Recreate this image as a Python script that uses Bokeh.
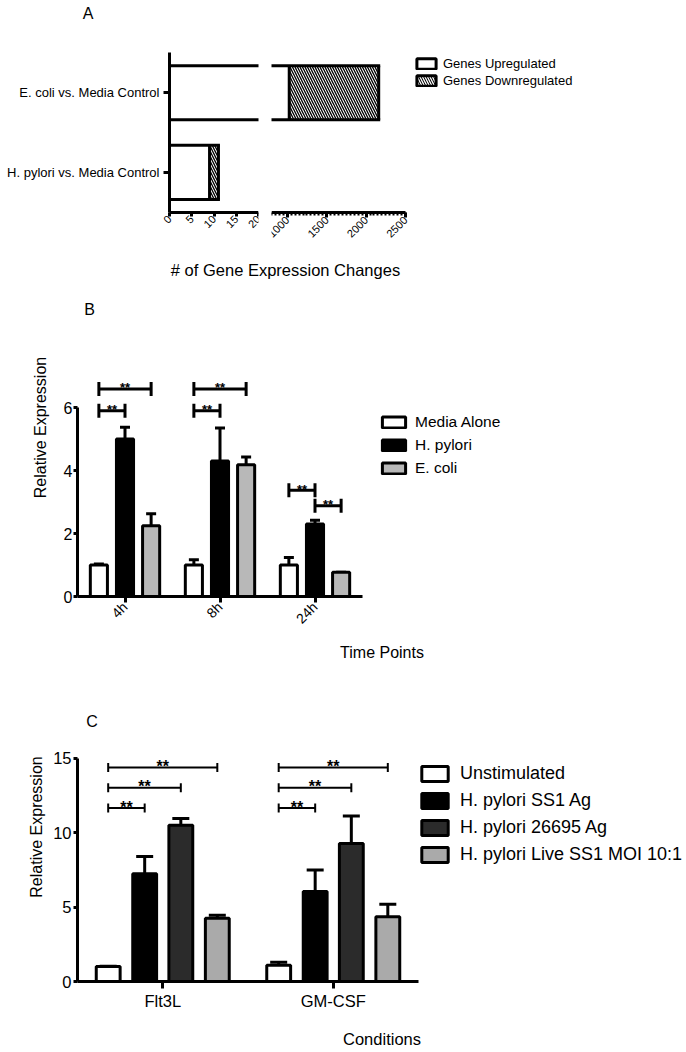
import numpy as np
from bokeh.plotting import figure
from bokeh.models import (Range1d, FixedTicker, Legend, LegendItem, Label, Whisker, TeeHead,
                          ColumnDataSource, CDSView, BooleanFilter)
from bokeh.layouts import column, row
from bokeh.embed import file_html
from bokeh.resources import INLINE
from bokeh.core.properties import value

FONT = "Liberation Sans"
W = 686

# ---------------- data ----------------
# Panel A
a_comparisons = ["H. pylori vs. Media Control", "E. coli vs. Media Control"]
a_up = [9, 1025]
a_down = [2, 1135]
a_series = ["Genes Upregulated", "Genes Downregulated"]
a_left_ticks = [0, 5, 10, 15, 20]
a_right_ticks = [1000, 1500, 2000, 2500]
a_right_minor = list(range(800, 2501, 50))
a_xlabel = "# of Gene Expression Changes"

# Panel B
b_times = ["4h", "8h", "24h"]
b_series = ["Media Alone", "H. pylori", "E. coli"]
b_media = [1.0, 1.0, 1.0]
b_media_err = [0.03, 0.17, 0.24]
b_hpylori = [5.0, 4.3, 2.3]
b_hpylori_err = [0.37, 1.05, 0.12]
b_ecoli = [2.25, 4.18, 0.77]
b_ecoli_err = [0.38, 0.25, 0.0]
b_yticks = [0, 2, 4, 6]
b_sig_time = [0, 0, 1, 1, 2, 2]
b_sig_from = [0, 0, 0, 0, 0, 1]
b_sig_to = [1, 2, 1, 2, 1, 2]
b_sig_height = [5.9, 6.59, 5.9, 6.59, 3.37, 2.88]
b_sig_text = ["**", "**", "**", "**", "**", "**"]

# Panel C
c_conditions = ["Flt3L", "GM-CSF"]
c_series = ["Unstimulated", "H. pylori SS1 Ag", "H. pylori 26695 Ag", "H. pylori Live SS1 MOI 10:1"]
c_unstim = [1.0, 1.1]
c_unstim_err = [0.02, 0.2]
c_ss1 = [7.25, 6.05]
c_ss1_err = [1.15, 1.45]
c_26695 = [10.5, 9.27]
c_26695_err = [0.45, 1.85]
c_live = [4.25, 4.35]
c_live_err = [0.2, 0.85]
c_yticks = [0, 5, 10, 15]
c_sig_cond = [0, 0, 0, 1, 1, 1]
c_sig_from = [0, 0, 0, 0, 0, 0]
c_sig_to = [1, 2, 3, 1, 2, 3]
c_sig_height = [11.66, 13.03, 14.38, 11.66, 13.03, 14.38]
c_sig_text = ["**", "**", "**", "**", "**", "**"]

B_COLORS = ["white", "black", "#b8b8b8"]
C_COLORS = ["white", "black", "#2b2b2b", "#aaaaaa"]
B_OFFSETS = [-0.275, 0.0, 0.275]
C_OFFSETS = [-0.32, -0.106, 0.106, 0.32]
A_BAR = 0.68    # bar thickness in category bands


def base_fig(**kw):
    p = figure(output_backend="svg", toolbar_location=None, **kw)
    p.grid.visible = False
    p.outline_line_color = None
    return p


def style_axis(ax, size, lw=3, tick_out=4, standoff=2):
    ax.axis_line_width = lw
    ax.axis_line_color = "black"
    ax.major_tick_line_width = lw
    ax.major_tick_line_color = "black"
    ax.major_tick_in = 0
    ax.major_tick_out = tick_out
    ax.minor_tick_line_color = None
    ax.major_label_standoff = standoff
    ax.major_label_text_font = FONT
    ax.major_label_text_font_size = size
    ax.major_label_text_color = "black"
    ax.axis_label_text_font = FONT
    ax.axis_label_text_font_style = "normal"
    ax.axis_label_text_color = "black"


def text_label(p, text, x, y, size="16px"):
    # x, y in screen pixels from the frame's bottom-left corner
    p.add_layout(Label(x=x, y=y, x_units="screen", y_units="screen", text=text,
                       text_font=FONT, text_font_size=size, text_color="black",
                       text_align="center", text_baseline="middle"))


def grouped(p, groups, vals_list, errs_list, colors, offsets, width, cap, lw):
    centers = np.arange(len(groups)) + 0.5
    rs = []
    for vals, errs, col, off in zip(vals_list, errs_list, colors, offsets):
        src = ColumnDataSource(dict(x=centers + off, top=vals, upper=np.add(vals, errs)))
        p.add_layout(Whisker(source=src, base="x", lower="top", upper="upper",
                             line_width=lw, line_color="black",
                             upper_head=TeeHead(size=cap, line_width=lw, line_color="black"),
                             lower_head=None))
        r = p.vbar(x="x", top="top", bottom=0, width=width, source=src,
                   fill_color=col, line_color="black", line_width=lw)
        rs.append(r)
    return rs, centers


def brackets(p, centers, offsets, g, a, b, h, texts, lw, cap, fsize, yoff):
    x0 = np.array([centers[gi] + offsets[ai] for gi, ai in zip(g, a)])
    x1 = np.array([centers[gi] + offsets[bi] for gi, bi in zip(g, b)])
    src = ColumnDataSource(dict(x0=x0, x1=x1, xm=(x0 + x1) / 2, y=h, t=texts))
    p.add_layout(Whisker(source=src, dimension="width", base="y", lower="x0", upper="x1",
                         line_width=lw, line_color="black",
                         upper_head=TeeHead(size=cap, line_width=lw, line_color="black"),
                         lower_head=TeeHead(size=cap, line_width=lw, line_color="black")))
    p.text(x="xm", y="y", text="t", source=src, text_font=value(FONT),
           text_font_size=fsize, text_font_style="bold", text_color="black",
           text_align="center", text_baseline="alphabetic", y_offset=yoff)


def legend(p, items, loc, gw, gh, lh, spacing, standoff, fsize):
    leg = Legend(items=items, location=loc, glyph_width=gw, glyph_height=gh,
                 label_height=lh, spacing=spacing, padding=0, margin=0,
                 label_standoff=standoff, label_text_font=FONT,
                 label_text_font_size=fsize, label_text_color="black",
                 border_line_color=None, background_fill_alpha=0)
    p.add_layout(leg, "center")


def view(mask):
    return CDSView(filter=BooleanFilter([bool(m) for m in mask]))


# ---------------- Panel A (broken x axis: two figures, axes at fixed locations) ----------------
HA = 258
band_px = 79.0                        # pixels per category band
yA = Range1d(-(HA - 212) / band_px, len(a_comparisons) + 52 / band_px)
a_pos = list(np.arange(len(a_comparisons)) + 0.5)
a_total = list(np.add(a_up, a_down))
srcA = ColumnDataSource(dict(y=a_pos, up=a_up, total=a_total))

# bar outlines as edges, so a bar running through the axis break stays open there
h_x0, h_x1, h_y = [], [], []
for pos, t in zip(a_pos, a_total):
    for s in (-1, 1):
        h_x0.append(0)
        h_x1.append(t)
        h_y.append(pos + s * A_BAR / 2)
v_x, v_y0, v_y1 = [], [], []
for pos, u, t in zip(a_pos, a_up, a_total):
    for x in (0, u, t):
        v_x.append(x)
        v_y0.append(pos - A_BAR / 2)
        v_y1.append(pos + A_BAR / 2)
srcH = ColumnDataSource(dict(x0=h_x0, x1=h_x1, y=h_y))
srcV = ColumnDataSource(dict(x=v_x, y0=v_y0, y1=v_y1))

left_px = 89.0 / (a_left_ticks[-1] - a_left_ticks[0])      # px per gene (left segment)
pA1 = base_fig(width=262, height=HA,
               x_range=Range1d(a_left_ticks[0] - 169 / left_px, a_left_ticks[-1]),
               y_range=yA, min_border_left=0, min_border_right=4,
               min_border_top=0, min_border_bottom=0)
pA2 = base_fig(width=424, height=HA,
               x_range=Range1d(a_right_minor[0],
                               a_right_minor[0] + (W - 271) * (a_right_ticks[-1] - a_right_minor[0]) / 134.0),
               y_range=yA, y_axis_location=None, min_border_left=9, min_border_right=0,
               min_border_top=0, min_border_bottom=0)

for p, lo, hi in ((pA1, a_left_ticks[0], a_left_ticks[-1]),
                  (pA2, a_right_minor[0], a_right_ticks[-1])):
    p.hbar(y="y", left=0, right="up", height=A_BAR, source=srcA,
           view=view([u > lo for u in a_up]), fill_color="white", line_color=None)
    p.hbar(y="y", left="up", right="total", height=A_BAR, source=srcA,
           view=view([(t > lo) and (u < hi) for u, t in zip(a_up, a_total)]),
           fill_color="white", hatch_pattern="left_diagonal_line", hatch_color="black",
           hatch_scale=5, hatch_weight=1.3, line_color=None)
    p.segment(x0="x0", x1="x1", y0="y", y1="y", source=srcH,
              view=view([(b > lo) and (a < hi) for a, b in zip(h_x0, h_x1)]),
              line_color="black", line_width=3, line_cap="square")
    p.segment(x0="x", x1="x", y0="y0", y1="y1", source=srcV,
              view=view([lo <= x <= hi for x in v_x]),
              line_color="black", line_width=3)

# legend swatches: zero-size boxes sitting on the up/down boundary edge (hidden under it)
in_right = view([a_right_minor[0] <= u <= a_right_ticks[-1] for u in a_up])
in_right2 = view([a_right_minor[0] <= u <= a_right_ticks[-1] for u in a_up])
leg_up = pA2.hbar(y="y", left="up", right="up", height=0, source=srcA, view=in_right,
                  fill_color="white", line_color="black", line_width=3)
leg_dn = pA2.hbar(y="y", left="up", right="up", height=0, source=srcA, view=in_right2,
                  fill_color="black", hatch_pattern="left_diagonal_line", hatch_color="white",
                  hatch_scale=5, hatch_weight=1.3, line_color="black", line_width=3)

ax = pA1.xaxis[0]
style_axis(ax, "11px", lw=3, tick_out=4, standoff=1)
ax.ticker = FixedTicker(ticks=a_left_ticks)
ax.major_label_orientation = np.pi / 4
ax.fixed_location = 0
ax.bounds = (a_left_ticks[0], a_left_ticks[-1])

ay = pA1.yaxis[0]
style_axis(ay, "13px", lw=3, tick_out=6, standoff=4)
ay.ticker = FixedTicker(ticks=a_pos)
ay.major_label_overrides = {float(v): t for v, t in zip(a_pos, a_comparisons)}
ay.fixed_location = 0
ay.bounds = (0, len(a_comparisons))

ax2 = pA2.xaxis[0]
style_axis(ax2, "11px", lw=3, tick_out=5, standoff=1)
ax2.ticker = FixedTicker(ticks=a_right_ticks, minor_ticks=a_right_minor)
ax2.minor_tick_line_color = "black"
ax2.minor_tick_line_width = 2
ax2.minor_tick_in = 0
ax2.minor_tick_out = 3
ax2.major_label_orientation = np.pi / 4
ax2.fixed_location = 0
ax2.bounds = (a_right_minor[0], a_right_ticks[-1])

legend(pA2, [LegendItem(label=a_series[0], renderers=[leg_up]),
             LegendItem(label=a_series[1], renderers=[leg_dn])],
       (143, 170), 24, 13, 16, 1, 5, "13px")

text_label(pA1, "A", 87.5, HA - 12.5)

# ---------------- Panel B ----------------
HB = 414
b_px = 95.0     # px per time-point group
b_py = 31.5     # px per unit of expression
pB = base_fig(width=W, height=HB, x_range=Range1d(0, (W - 77) / b_px),
              y_range=Range1d(0, (596 - 258) / b_py),
              min_border_left=77, min_border_right=0, min_border_top=0, min_border_bottom=76)
rB, centersB = grouped(pB, b_times, [b_media, b_hpylori, b_ecoli],
                       [b_media_err, b_hpylori_err, b_ecoli_err], B_COLORS, B_OFFSETS,
                       0.18, 10, 3)
brackets(pB, centersB, B_OFFSETS, b_sig_time, b_sig_from, b_sig_to, b_sig_height,
         b_sig_text, 3, 14, "13px", -1)

style_axis(pB.xaxis[0], "14px", lw=3, tick_out=6, standoff=2)
pB.xaxis.ticker = FixedTicker(ticks=list(centersB))
pB.xaxis.major_label_overrides = {float(c): t for c, t in zip(centersB, b_times)}
pB.xaxis.major_label_orientation = np.pi / 4
pB.xaxis.bounds = (0, len(b_times))
pB.xaxis.axis_label = "Time Points"
pB.xaxis.axis_label_text_font_size = "16px"
pB.xaxis.axis_label_standoff = 9

style_axis(pB.yaxis[0], "16px", lw=3, tick_out=4, standoff=1)
pB.yaxis.ticker = FixedTicker(ticks=b_yticks)
pB.yaxis.bounds = (b_yticks[0], b_yticks[-1])
pB.yaxis.axis_label = "Relative Expression"
pB.yaxis.axis_label_text_font_size = "16px"
pB.yaxis.axis_label_standoff = 12

legend(pB, [LegendItem(label=s, renderers=[r]) for s, r in zip(b_series, rB)],
       (302, 119), 29, 14, 18, 5, 7, "15.5px")

text_label(pB, a_xlabel, 285 - 77, 596 - 269, "16.5px")
text_label(pB, "B", 89 - 77, 596 - 309)

# ---------------- Panel C ----------------
HC = 378
c_px = 170.5    # px per condition group
c_py = 15.07    # px per unit of expression
pC = base_fig(width=W, height=HC, x_range=Range1d(0, (W - 77) / c_px),
              y_range=Range1d(0, (985 - 672) / c_py),
              min_border_left=77, min_border_right=0, min_border_top=0, min_border_bottom=65)
rC, centersC = grouped(pC, c_conditions, [c_unstim, c_ss1, c_26695, c_live],
                       [c_unstim_err, c_ss1_err, c_26695_err, c_live_err], C_COLORS, C_OFFSETS,
                       0.14, 17, 3)
brackets(pC, centersC, C_OFFSETS, c_sig_cond, c_sig_from, c_sig_to, c_sig_height,
         c_sig_text, 2, 9, "16px", -1)

style_axis(pC.xaxis[0], "16.5px", lw=3, tick_out=7, standoff=3)
pC.xaxis.ticker = FixedTicker(ticks=list(centersC))
pC.xaxis.major_label_overrides = {float(c): t for c, t in zip(centersC, c_conditions)}
pC.xaxis.bounds = (0, len(c_conditions))
pC.xaxis.axis_label = "Conditions"
pC.xaxis.axis_label_text_font_size = "16.5px"
pC.xaxis.axis_label_standoff = 17

style_axis(pC.yaxis[0], "16.5px", lw=3, tick_out=4, standoff=2)
pC.yaxis.ticker = FixedTicker(ticks=c_yticks)
pC.yaxis.bounds = (c_yticks[0], c_yticks[-1])
pC.yaxis.axis_label = "Relative Expression"
pC.yaxis.axis_label_text_font_size = "16px"
pC.yaxis.axis_label_standoff = 5

legend(pC, [LegendItem(label=s, renderers=[r]) for s, r in zip(c_series, rC)],
       (341, 116), 33, 19, 21, 6, 9, "18px")

text_label(pC, "C", 91.5 - 77, 985 - 725)

layout = column(row(pA1, pA2), pB, pC)
open("out.html", "w").write(file_html(layout, INLINE))
